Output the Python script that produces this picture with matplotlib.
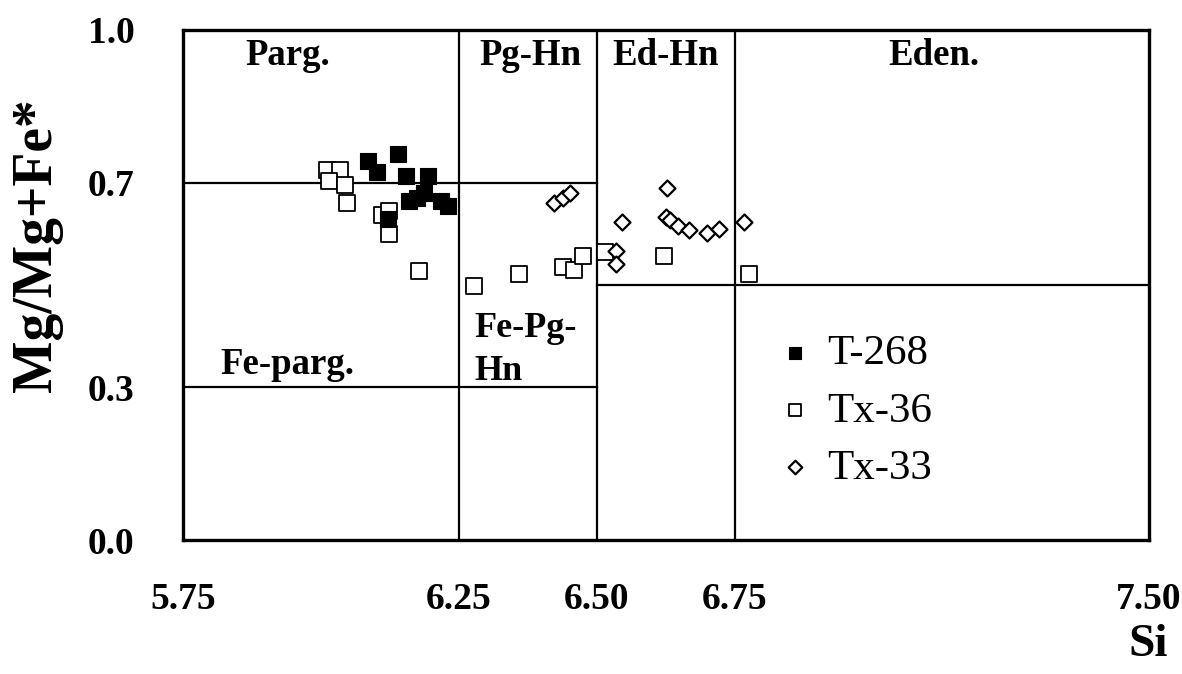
"""
Mg/(Mg+Fe*) vs Si classification plot for calcic amphiboles
"""

import matplotlib
matplotlib.use('Agg')
import matplotlib.pyplot as plt

plt.rcParams['font.family'] = ['Liberation Serif', 'DejaVu Serif']

# T-268 (filled squares)
t268_si = [6.086, 6.101, 6.139, 6.154, 6.194, 6.159, 6.174, 6.186, 6.217, 6.230, 6.121]
t268_mg = [0.743, 0.722, 0.757, 0.714, 0.714, 0.665, 0.671, 0.680, 0.665, 0.655, 0.629]

# Tx-36 (open squares)
tx36_si = [6.010, 6.035, 6.014, 6.043, 6.048, 6.110, 6.123, 6.123, 6.177,
           6.277, 6.359, 6.439, 6.459, 6.474, 6.515, 6.621, 6.775]
tx36_mg = [0.725, 0.725, 0.704, 0.696, 0.661, 0.637, 0.645, 0.600, 0.527,
           0.498, 0.522, 0.535, 0.529, 0.557, 0.565, 0.557, 0.522]

# Tx-33 (open diamonds)
tx33_si = [6.423, 6.439, 6.452, 6.626, 6.546, 6.625, 6.632, 6.646, 6.666,
           6.699, 6.721, 6.766, 6.534, 6.534]
tx33_mg = [0.661, 0.671, 0.680, 0.690, 0.624, 0.633, 0.627, 0.616, 0.608,
           0.602, 0.610, 0.624, 0.567, 0.541]

xticks = [5.75, 6.25, 6.50, 6.75, 7.50]
yticks = [0.0, 0.3, 0.7, 1.0]

# field boundaries: (x0, x1, y0, y1)
bounds = [(6.25, 6.25, 0.0, 1.0),
          (6.50, 6.50, 0.0, 1.0),
          (6.75, 6.75, 0.0, 1.0),
          (5.75, 6.50, 0.7, 0.7),
          (5.75, 6.50, 0.3, 0.3),
          (6.50, 7.50, 0.5, 0.5)]

# field names: (x, y, text)
fields = [(5.94, 0.95, 'Parg.'),
          (6.38, 0.95, 'Pg-Hn'),
          (6.625, 0.95, 'Ed-Hn'),
          (7.11, 0.95, 'Eden.'),
          (5.94, 0.345, 'Fe-parg.')]

fig = plt.figure(figsize=(11.82, 6.74), dpi=100)
ax = fig.add_axes([0.1548, 0.1988, 0.8173, 0.7567])

for x0, x1, y0, y1 in bounds:
    ax.plot([x0, x1], [y0, y1], color='black', lw=1.6, zorder=1)

for x, y, t in fields:
    ax.text(x, y, t, ha='center', va='center', fontsize=26.5, fontweight='bold')
ax.text(6.277, 0.372, 'Fe-Pg-\nHn', ha='left', va='center', fontsize=26,
        fontweight='bold', linespacing=1.4)

ax.scatter(t268_si, t268_mg, marker='s', s=120, c='black', edgecolors='black',
           linewidths=0.8, zorder=3, label='T-268')
ax.scatter(tx36_si, tx36_mg, marker='s', s=120, facecolors='white', edgecolors='black',
           linewidths=1.3, zorder=2, label='Tx-36')
ax.scatter(tx33_si, tx33_mg, marker='D', s=66, facecolors='white', edgecolors='black',
           linewidths=1.6, zorder=2, label='Tx-33')

leg = ax.legend(loc='center left', bbox_to_anchor=(0.620, 0.253), frameon=False,
                fontsize=31, markerscale=0.85, handlelength=0.6, handletextpad=0.44,
                labelspacing=0.42, borderpad=0, borderaxespad=0)

ax.set_xlim(5.75, 7.50)
ax.set_ylim(0.0, 1.0)
ax.set_xticks(xticks)
ax.set_xticklabels(['%.2f' % v for v in xticks], fontsize=27, fontweight='bold')
ax.set_yticks(yticks)
ax.set_yticklabels(['%.1f' % v for v in yticks], fontsize=27, fontweight='bold')
ax.tick_params(axis='x', length=0, pad=30)
ax.tick_params(axis='y', length=0, pad=35)
for sp in ax.spines.values():
    sp.set_linewidth(2.4)

fig.text(0.031, 0.636, 'Mg/Mg+Fe*', rotation=90, ha='center', va='center',
         fontsize=40, fontweight='bold')
fig.text(0.971, 0.043, 'Si', ha='center', va='center', fontsize=34, fontweight='bold')

fig.savefig('out.png', dpi=100)
